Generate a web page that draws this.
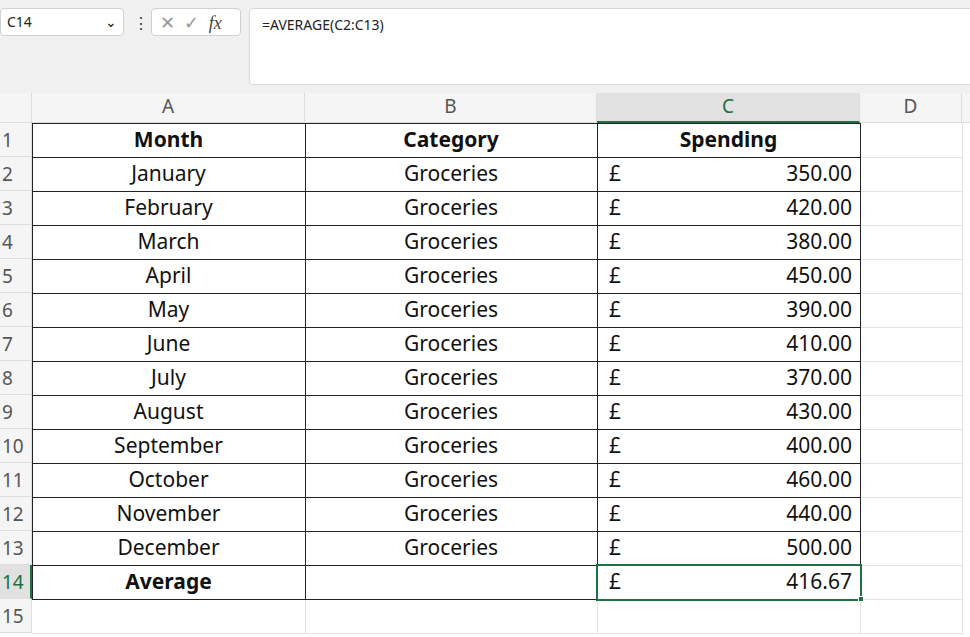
<!DOCTYPE html>
<html><head><meta charset="utf-8">
<script src="https://cdn.jsdelivr.net/npm/chart.js@4/dist/chart.umd.min.js"></script>
<style>
body{margin:0;width:970px;height:637px;overflow:hidden;background:#fff;font-family:"Noto Sans",sans-serif;position:relative}
.top{position:absolute;left:0;top:0;width:970px;height:93px;background:#f0f0f0}
.nb{position:absolute;left:0;top:8px;width:124px;height:28px;background:#fff;border:1px solid #d0d0d0;border-radius:4px;box-sizing:border-box;font-size:14px;line-height:26px;padding-left:6px;color:#222}
.fx{position:absolute;left:151px;top:8px;width:90px;height:28px;background:#fff;border:1px solid #d0d0d0;border-radius:4px;box-sizing:border-box;color:#999;font-size:18px;line-height:26px;padding-left:8px}
.fb{position:absolute;left:249px;top:8px;width:730px;height:77px;background:#fff;border:1px solid #d8d8d8;border-radius:4px;box-sizing:border-box;font-size:14px;padding:6px 12px;color:#222}
.cell{position:absolute;box-sizing:border-box;font-size:21px;color:#111;line-height:33px;white-space:nowrap}
.hdr{position:absolute;box-sizing:border-box;background:#f5f5f5;color:#555;font-size:19px;text-align:center;border-right:1px solid #ddd;border-bottom:1px solid #ddd}
</style></head><body>
<div class="top"></div>
<div class="nb">C14<span style="float:right;margin-right:6px">⌄</span></div>
<div style="position:absolute;left:133px;top:12px;font-size:16px;color:#444">⋮</div>
<div class="fx">✕ &nbsp;✓ &nbsp;<i style="color:#444;font-family:serif">fx</i></div>
<div class="fb">=AVERAGE(C2:C13)</div>
<div id="grid"></div>
<script>
const headers=["Month","Category","Spending"];
const months=["January","February","March","April","May","June","July","August","September","October","November","December"];
const categories=Array(12).fill("Groceries");
const spending=[350,420,380,450,390,410,370,430,400,460,440,500];
const avgLabel="Average";
const avgValue=416.67;
const colX=[32,305,597,860,962], colN=["A","B","C","D"];
const g=document.getElementById('grid');
function el(cls,x,y,w,h,html,st){const d=document.createElement('div');d.className=cls;Object.assign(d.style,{left:x+'px',top:y+'px',width:w+'px',height:h+'px'},st||{});d.innerHTML=html;g.appendChild(d);return d;}
el('hdr',0,93,32,30,'');
for(let c=0;c<4;c++)el('hdr',colX[c],93,colX[c+1]-colX[c],30,colN[c],c==2?{background:'#e1e1e1',color:'#1e6e3c',borderBottom:'2px solid #1e7145'}:{});
el('hdr',962,93,10,30,'');
const rowY=r=>123+(r-1)*34;
for(let r=1;r<=15;r++){
 el('hdr',0,rowY(r),32,34,String(r),Object.assign({lineHeight:'34px',textAlign:'left',paddingLeft:'2px'},r==14?{background:'#e1e1e1',color:'#1e6e3c',borderRight:'2px solid #1e7145'}:{}));
 for(let c=0;c<4;c++)el('cell',colX[c],rowY(r),colX[c+1]-colX[c]+1,35,'',{borderRight:'1px solid #e2e2e2',borderBottom:'1px solid #e2e2e2'});
}
for(let r=1;r<=14;r++)for(let c=0;c<3;c++)el('cell',colX[c],rowY(r),colX[c+1]-colX[c]+1,35,'',{border:'1px solid #222'});
const fmt=v=>v.toFixed(2);
function money(r,v){el('cell',colX[2]+12,rowY(r),30,34,'£');el('cell',colX[2],rowY(r),colX[3]-colX[2]-8,34,fmt(v),{textAlign:'right'});}
headers.forEach((h,c)=>el('cell',colX[c],rowY(1),colX[c+1]-colX[c],34,'<b>'+h+'</b>',{textAlign:'center'}));
months.forEach((m,i)=>{el('cell',colX[0],rowY(i+2),colX[1]-colX[0],34,m,{textAlign:'center'});el('cell',colX[1],rowY(i+2),colX[2]-colX[1],34,categories[i],{textAlign:'center'});money(i+2,spending[i]);});
el('cell',colX[0],rowY(14),colX[1]-colX[0],34,'<b>'+avgLabel+'</b>',{textAlign:'center'});
money(14,avgValue);
el('cell',colX[2]-1,rowY(14)-1,colX[3]-colX[2]+3,37,'',{border:'2px solid #1e7145'});
el('cell',colX[3]-2,rowY(15)-3,6,6,'',{background:'#1e7145',border:'1px solid #fff'});
</script>
</body></html>
